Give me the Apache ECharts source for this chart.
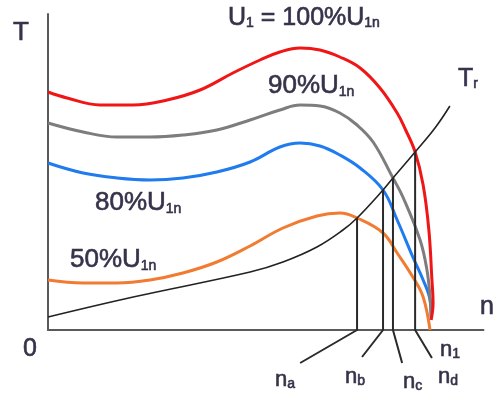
<!DOCTYPE html>
<html>
<head>
<meta charset="utf-8">
<script src="https://cdn.jsdelivr.net/npm/echarts@6/dist/echarts.min.js"></script>
<style>
  html, body { margin: 0; padding: 0; background: #ffffff; }
  #chart { width: 493px; height: 393px; }
</style>
</head>
<body>
<div id="chart"></div>
<script>
// Induction motor torque-speed curves at reduced supply voltage.
// Speed n in per-unit of synchronous speed n1, torque T in relative units.

const u100N = [0, 0.050, 0.136, 0.223, 0.312, 0.398, 0.484, 0.555, 0.607, 0.660, 0.712, 0.764, 0.817, 0.869, 0.914, 0.935, 0.961, 0.982, 0.997, 1.005, 1.008, 1.003];
const u100T = [2.38, 2.32, 2.25, 2.25, 2.30, 2.40, 2.57, 2.70, 2.78, 2.82, 2.80, 2.73, 2.62, 2.42, 2.17, 2.01, 1.78, 1.45, 1.00, 0.50, 0.27, 0.10];

const u90N = [0, 0.092, 0.181, 0.267, 0.353, 0.442, 0.529, 0.607, 0.660, 0.712, 0.764, 0.809, 0.851, 0.903, 0.929, 0.974, 0.992, 1.000, 1.003];
const u90T = [2.07, 1.98, 1.93, 1.93, 1.95, 2.00, 2.10, 2.20, 2.25, 2.24, 2.17, 2.05, 1.88, 1.52, 1.33, 0.90, 0.60, 0.33, 0.14];

const u80N = [0, 0.092, 0.181, 0.267, 0.353, 0.442, 0.529, 0.607, 0.660, 0.712, 0.764, 0.817, 0.877, 0.914, 0.955, 0.982, 1.000, 1.003];
const u80T = [1.67, 1.57, 1.52, 1.50, 1.52, 1.58, 1.68, 1.83, 1.87, 1.84, 1.75, 1.62, 1.40, 1.10, 0.73, 0.50, 0.30, 0.12];

const u50N = [0, 0.092, 0.181, 0.267, 0.353, 0.442, 0.529, 0.615, 0.704, 0.764, 0.809, 0.877, 0.914, 0.955, 0.982, 1.000];
const u50T = [0.50, 0.47, 0.47, 0.50, 0.57, 0.68, 0.84, 1.02, 1.14, 1.17, 1.12, 0.97, 0.77, 0.53, 0.33, 0];

// load torque Tr
const loadN = [0, 0.223, 0.529, 0.615, 0.704, 0.772, 0.809, 0.877, 0.903, 0.961, 1.013, 1.052];
const loadT = [0.13, 0.33, 0.58, 0.68, 0.83, 1.00, 1.12, 1.40, 1.52, 1.78, 2.02, 2.24];

// operating points na, nb, nc, nd and the ends of their leader lines
const opNames = ['a', 'b', 'c', 'd'];
const opN = [0.809, 0.877, 0.903, 0.961];
const opT = [1.12, 1.40, 1.52, 1.78];
const leadN = [0.660, 0.822, 0.927, 1.005];
const leadT = [-0.33, -0.27, -0.33, -0.28];

const FONT = '"Liberation Sans", Arial, sans-serif';
const TEXT = '#35324a';

const zip = (xs, ys) => xs.map((x, i) => [x, ys[i]]);

function curve(name, n, t, color) {
  return {
    name, type: 'line', data: zip(n, t), smooth: 0.4,
    showSymbol: false, clip: false,
    lineStyle: { color, width: 3 }, z: 3
  };
}

const series = [
  curve('50%', u50N, u50T, '#f27b32'),
  curve('80%', u80N, u80T, '#1f7bee'),
  curve('90%', u90N, u90T, '#7d7d7d'),
  curve('100%', u100N, u100T, '#f01616'),
  {
    name: 'Tr', type: 'line', data: zip(loadN, loadT), smooth: 0.4,
    showSymbol: false, clip: false,
    lineStyle: { color: '#222', width: 1.6 }, z: 4
  }
];

opN.forEach((n, i) => {
  series.push({
    name: 'n' + opNames[i], type: 'line', showSymbol: false, clip: false,
    data: [[n, opT[i]], [n, 0], [leadN[i], leadT[i]]],
    lineStyle: { color: '#2a2a2a', width: 2 }, z: 5
  });
});

function rich(big, small) {
  const base = { fontFamily: FONT, fill: TEXT, stroke: TEXT, lineWidth: 0.6 };
  return {
    fontFamily: FONT, fill: TEXT,
    rich: {
      m: Object.assign({ fontSize: big }, base),
      s: Object.assign({ fontSize: small, verticalAlign: 'bottom' }, base)
    }
  };
}

function label(x, y, text, big, small) {
  return {
    type: 'text', x, y, z: 10,
    style: Object.assign({ text, align: 'left', verticalAlign: 'middle' }, rich(big, small))
  };
}

const graphic = [
  label(228, 18, '{m|U}{s|1}{m| = 100%U}{s|1n}', 25, 14),
  label(268, 86, '{m|90%U}{s|1n}', 26, 14),
  label(95, 203, '{m|80%U}{s|1n}', 26, 14),
  label(70, 260, '{m|50%U}{s|1n}', 26, 14),
  label(458, 79, '{m|T}{s|r}', 25, 14),
  label(13, 33, '{m|T}', 26, 14),
  label(23, 349, '{m|0}', 25, 14),
  label(480, 307, '{m|n}', 25, 14),
  label(275, 380, '{m|n}{s|a}', 22, 14),
  label(345, 377, '{m|n}{s|b}', 22, 14),
  label(403, 382, '{m|n}{s|c}', 22, 14),
  label(438, 377, '{m|n}{s|d}', 22, 14),
  label(440, 350, '{m|n}{s|1}', 22, 14)
];

const chart = echarts.init(document.getElementById('chart'), null, { renderer: 'canvas' });
chart.setOption({
  animation: false,
  backgroundColor: '#ffffff',
  grid: { left: 48, top: 14, right: 9.5, bottom: 63, containLabel: false },
  xAxis: {
    type: 'value', min: 0, max: 1.14,
    axisLine: { show: true, onZero: false, lineStyle: { color: '#5a5a5a', width: 2 } },
    axisTick: { show: false }, axisLabel: { show: false }, splitLine: { show: false }
  },
  yAxis: {
    type: 'value', min: 0, max: 3.16,
    axisLine: { show: true, lineStyle: { color: '#5a5a5a', width: 2 } },
    axisTick: { show: false }, axisLabel: { show: false }, splitLine: { show: false }
  },
  series,
  graphic
});
</script>
</body>
</html>
